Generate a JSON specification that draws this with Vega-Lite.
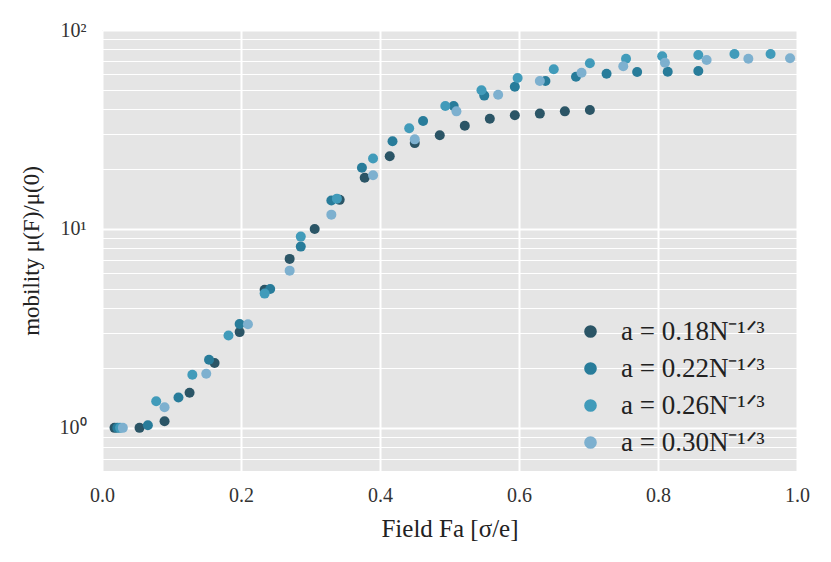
{
  "$schema": "https://vega.github.io/schema/vega-lite/v6.json",
  "width": 695,
  "height": 441,
  "autosize": "none",
  "padding": {"left": 102, "top": 30, "right": 34, "bottom": 91},
  "background": "white",
  "config": {
    "view": {"fill": "#e5e5e5", "stroke": null},
    "font": "Liberation Serif"
  },
  "datasets": {
    "pts": [
      {"s": "a = 0.18N⁻¹ᐟ³", "x": 0.018, "y": 1.0},
      {"s": "a = 0.18N⁻¹ᐟ³", "x": 0.054, "y": 1.0},
      {"s": "a = 0.18N⁻¹ᐟ³", "x": 0.090, "y": 1.08},
      {"s": "a = 0.18N⁻¹ᐟ³", "x": 0.126, "y": 1.50},
      {"s": "a = 0.18N⁻¹ᐟ³", "x": 0.162, "y": 2.12},
      {"s": "a = 0.18N⁻¹ᐟ³", "x": 0.198, "y": 3.03},
      {"s": "a = 0.18N⁻¹ᐟ³", "x": 0.234, "y": 4.94},
      {"s": "a = 0.18N⁻¹ᐟ³", "x": 0.270, "y": 7.07},
      {"s": "a = 0.18N⁻¹ᐟ³", "x": 0.306, "y": 10.0},
      {"s": "a = 0.18N⁻¹ᐟ³", "x": 0.342, "y": 14.0},
      {"s": "a = 0.18N⁻¹ᐟ³", "x": 0.378, "y": 18.1},
      {"s": "a = 0.18N⁻¹ᐟ³", "x": 0.414, "y": 23.2},
      {"s": "a = 0.18N⁻¹ᐟ³", "x": 0.450, "y": 27.0},
      {"s": "a = 0.18N⁻¹ᐟ³", "x": 0.486, "y": 29.6},
      {"s": "a = 0.18N⁻¹ᐟ³", "x": 0.522, "y": 33.0},
      {"s": "a = 0.18N⁻¹ᐟ³", "x": 0.558, "y": 35.8},
      {"s": "a = 0.18N⁻¹ᐟ³", "x": 0.594, "y": 37.3},
      {"s": "a = 0.18N⁻¹ᐟ³", "x": 0.630, "y": 38.0},
      {"s": "a = 0.18N⁻¹ᐟ³", "x": 0.666, "y": 39.0},
      {"s": "a = 0.18N⁻¹ᐟ³", "x": 0.702, "y": 39.6},
      {"s": "a = 0.22N⁻¹ᐟ³", "x": 0.022, "y": 1.0},
      {"s": "a = 0.22N⁻¹ᐟ³", "x": 0.066, "y": 1.03},
      {"s": "a = 0.22N⁻¹ᐟ³", "x": 0.110, "y": 1.42},
      {"s": "a = 0.22N⁻¹ᐟ³", "x": 0.154, "y": 2.20},
      {"s": "a = 0.22N⁻¹ᐟ³", "x": 0.198, "y": 3.33},
      {"s": "a = 0.22N⁻¹ᐟ³", "x": 0.242, "y": 4.99},
      {"s": "a = 0.22N⁻¹ᐟ³", "x": 0.286, "y": 8.15},
      {"s": "a = 0.22N⁻¹ᐟ³", "x": 0.330, "y": 13.9},
      {"s": "a = 0.22N⁻¹ᐟ³", "x": 0.374, "y": 20.3},
      {"s": "a = 0.22N⁻¹ᐟ³", "x": 0.418, "y": 27.6},
      {"s": "a = 0.22N⁻¹ᐟ³", "x": 0.462, "y": 34.9},
      {"s": "a = 0.22N⁻¹ᐟ³", "x": 0.506, "y": 41.5},
      {"s": "a = 0.22N⁻¹ᐟ³", "x": 0.550, "y": 46.8},
      {"s": "a = 0.22N⁻¹ᐟ³", "x": 0.594, "y": 51.9},
      {"s": "a = 0.22N⁻¹ᐟ³", "x": 0.638, "y": 55.4},
      {"s": "a = 0.22N⁻¹ᐟ³", "x": 0.682, "y": 58.2},
      {"s": "a = 0.22N⁻¹ᐟ³", "x": 0.726, "y": 60.3},
      {"s": "a = 0.22N⁻¹ᐟ³", "x": 0.770, "y": 61.5},
      {"s": "a = 0.22N⁻¹ᐟ³", "x": 0.814, "y": 61.7},
      {"s": "a = 0.22N⁻¹ᐟ³", "x": 0.858, "y": 62.2},
      {"s": "a = 0.26N⁻¹ᐟ³", "x": 0.026, "y": 1.0},
      {"s": "a = 0.26N⁻¹ᐟ³", "x": 0.078, "y": 1.36},
      {"s": "a = 0.26N⁻¹ᐟ³", "x": 0.130, "y": 1.85},
      {"s": "a = 0.26N⁻¹ᐟ³", "x": 0.182, "y": 2.91},
      {"s": "a = 0.26N⁻¹ᐟ³", "x": 0.234, "y": 4.73},
      {"s": "a = 0.26N⁻¹ᐟ³", "x": 0.286, "y": 9.15},
      {"s": "a = 0.26N⁻¹ᐟ³", "x": 0.338, "y": 14.2},
      {"s": "a = 0.26N⁻¹ᐟ³", "x": 0.390, "y": 22.6},
      {"s": "a = 0.26N⁻¹ᐟ³", "x": 0.442, "y": 32.1},
      {"s": "a = 0.26N⁻¹ᐟ³", "x": 0.494, "y": 41.5},
      {"s": "a = 0.26N⁻¹ᐟ³", "x": 0.546, "y": 49.8},
      {"s": "a = 0.26N⁻¹ᐟ³", "x": 0.598, "y": 57.4},
      {"s": "a = 0.26N⁻¹ᐟ³", "x": 0.650, "y": 63.5},
      {"s": "a = 0.26N⁻¹ᐟ³", "x": 0.702, "y": 68.0},
      {"s": "a = 0.26N⁻¹ᐟ³", "x": 0.754, "y": 71.7},
      {"s": "a = 0.26N⁻¹ᐟ³", "x": 0.806, "y": 73.8},
      {"s": "a = 0.26N⁻¹ᐟ³", "x": 0.858, "y": 74.9},
      {"s": "a = 0.26N⁻¹ᐟ³", "x": 0.910, "y": 75.7},
      {"s": "a = 0.26N⁻¹ᐟ³", "x": 0.962, "y": 75.7},
      {"s": "a = 0.30N⁻¹ᐟ³", "x": 0.03, "y": 1.0},
      {"s": "a = 0.30N⁻¹ᐟ³", "x": 0.09, "y": 1.27},
      {"s": "a = 0.30N⁻¹ᐟ³", "x": 0.15, "y": 1.87},
      {"s": "a = 0.30N⁻¹ᐟ³", "x": 0.21, "y": 3.32},
      {"s": "a = 0.30N⁻¹ᐟ³", "x": 0.27, "y": 6.17},
      {"s": "a = 0.30N⁻¹ᐟ³", "x": 0.33, "y": 11.8},
      {"s": "a = 0.30N⁻¹ᐟ³", "x": 0.39, "y": 18.6},
      {"s": "a = 0.30N⁻¹ᐟ³", "x": 0.45, "y": 28.2},
      {"s": "a = 0.30N⁻¹ᐟ³", "x": 0.51, "y": 39.0},
      {"s": "a = 0.30N⁻¹ᐟ³", "x": 0.57, "y": 47.3},
      {"s": "a = 0.30N⁻¹ᐟ³", "x": 0.63, "y": 55.4},
      {"s": "a = 0.30N⁻¹ᐟ³", "x": 0.69, "y": 61.0},
      {"s": "a = 0.30N⁻¹ᐟ³", "x": 0.75, "y": 65.7},
      {"s": "a = 0.30N⁻¹ᐟ³", "x": 0.81, "y": 68.5},
      {"s": "a = 0.30N⁻¹ᐟ³", "x": 0.87, "y": 70.7},
      {"s": "a = 0.30N⁻¹ᐟ³", "x": 0.93, "y": 71.7},
      {"s": "a = 0.30N⁻¹ᐟ³", "x": 0.99, "y": 72.1}
    ]
  },
  "data": {"name": "pts"},
  "mark": {"type": "circle", "size": 100, "opacity": 1},
  "encoding": {
    "x": {
      "field": "x",
      "type": "quantitative",
      "scale": {"domain": [0, 1], "nice": false, "zero": false},
      "axis": {
        "title": "Field Fa [σ/e]",
        "values": [0, 0.2, 0.4, 0.6, 0.8, 1.0],
        "format": ".1f",
        "domain": false,
        "ticks": false,
        "grid": true,
        "gridColor": "white",
        "gridWidth": 2,
        "labelFlush": false,
        "labelFontSize": 20,
        "labelColor": "#333333",
        "labelPadding": 14,
        "titleFontSize": 25,
        "titleFontWeight": "normal",
        "titleColor": "#222222",
        "titlePadding": 11
      }
    },
    "y": {
      "field": "y",
      "type": "quantitative",
      "scale": {"type": "log", "domain": [0.607, 100], "nice": false},
      "axis": {
        "title": "mobility μ(F)/μ(0)",
        "values": [0.7, 0.8, 0.9, 1, 2, 3, 4, 5, 6, 7, 8, 9, 10, 20, 30, 40, 50, 60, 70, 80, 90, 100],
        "labelExpr": "datum.value == 1 ? '10⁰' : datum.value == 10 ? '10¹' : datum.value == 100 ? '10²' : ''",
        "domain": false,
        "ticks": false,
        "grid": true,
        "gridColor": "white",
        "gridWidth": {"condition": {"test": "datum.value == 1 || datum.value == 10 || datum.value == 100", "value": 2}, "value": 1},
        "labelFlush": false,
        "labelFontSize": 20,
        "labelColor": "#333333",
        "labelPadding": 16,
        "titleFontSize": 23,
        "titleFontWeight": "normal",
        "titleColor": "#222222",
        "titlePadding": 16
      }
    },
    "color": {
      "field": "s",
      "type": "nominal",
      "scale": {
        "domain": ["a = 0.18N⁻¹ᐟ³", "a = 0.22N⁻¹ᐟ³", "a = 0.26N⁻¹ᐟ³", "a = 0.30N⁻¹ᐟ³"],
        "range": ["#2b5566", "#287c9a", "#419bba", "#7db0cf"]
      },
      "legend": {
        "title": null,
        "orient": "none",
        "legendX": 475,
        "legendY": 288,
        "symbolType": "circle",
        "symbolSize": 160,
        "symbolStrokeWidth": 0,
        "symbolOpacity": 1,
        "labelFontSize": 27,
        "labelColor": "#222222",
        "labelOffset": 17,
        "rowPadding": 9
      }
    }
  }
}
